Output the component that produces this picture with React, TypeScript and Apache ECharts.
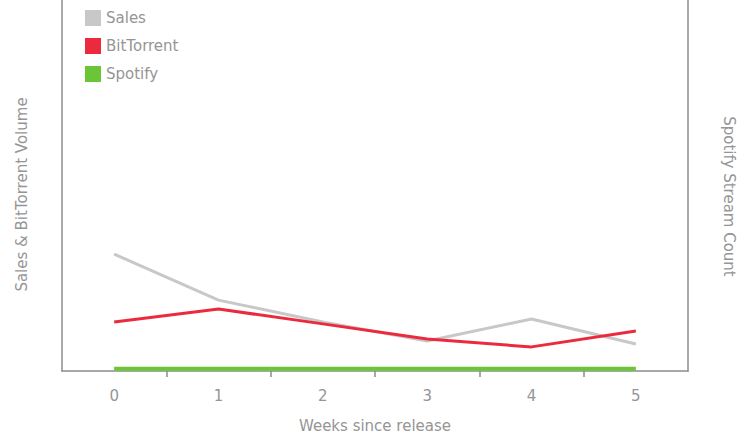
import React, { useEffect, useRef } from "react";
import * as echarts from "echarts";

const weeks = ["0", "1", "2", "3", "4", "5"];
const salesValues = [31.5, 19.1, 13.2, 8.1, 14.0, 7.3];
const bitTorrentValues = [13.2, 16.7, 12.7, 8.6, 6.5, 10.8];
const spotifyValues = [0.6, 0.6, 0.6, 0.6, 0.6, 0.6];
const bandBoundaries = [1, 2, 3, 4, 5];

const FONT = "DejaVu Sans";
const GREY_TEXT = "#959595";
const AXIS_GREY = "#8c8c8c";
const FS = 15;

export default function App() {
  const ref = useRef<HTMLDivElement>(null);
  useEffect(() => {
    document.body.style.margin = "0";
    const chart = echarts.init(ref.current!, null, { renderer: "svg" });
    chart.setOption({
      animation: false,
      backgroundColor: "#ffffff",
      textStyle: { fontFamily: FONT },
      legend: {
        orient: "vertical",
        left: 80,
        top: 5,
        itemWidth: 16,
        itemHeight: 16,
        itemGap: 12,
        icon: "rect",
        textStyle: { color: GREY_TEXT, fontSize: FS, fontFamily: FONT },
        data: ["Sales", "BitTorrent", "Spotify"],
      },
      grid: { left: 62, right: 59, top: 0, bottom: 66 },
      xAxis: [
        {
          type: "category",
          data: weeks,
          boundaryGap: true,
          name: "Weeks since release",
          nameLocation: "middle",
          nameGap: 47,
          nameTextStyle: { color: GREY_TEXT, fontSize: FS, fontFamily: FONT },
          axisLine: { lineStyle: { color: AXIS_GREY, width: 1.5 } },
          axisTick: { show: false },
          axisLabel: { color: GREY_TEXT, fontSize: FS, margin: 17, fontFamily: FONT },
        },
        {
          type: "value",
          position: "bottom",
          min: 0,
          max: 6,
          axisLine: { show: false },
          axisLabel: { show: false },
          splitLine: { show: false },
          axisTick: {
            show: true,
            length: 6,
            customValues: bandBoundaries,
            lineStyle: { color: AXIS_GREY, width: 1.5 },
          },
        },
      ],
      yAxis: [
        {
          type: "value",
          min: 0,
          max: 100,
          name: "Sales & BitTorrent Volume",
          nameLocation: "middle",
          nameGap: 33,
          nameTextStyle: { color: GREY_TEXT, fontSize: FS, fontFamily: FONT, padding: [0, 18, 0, 0] },
          axisLine: { show: true, lineStyle: { color: AXIS_GREY, width: 1.5 } },
          axisTick: { show: false },
          axisLabel: { show: false },
          splitLine: { show: false },
        },
        {
          type: "value",
          min: 0,
          max: 100,
          position: "right",
          name: "Spotify Stream Count",
          nameLocation: "middle",
          nameGap: 33,
          nameRotate: -90,
          nameTextStyle: { color: GREY_TEXT, fontSize: FS, fontFamily: FONT, padding: [0, 0, 0, 22] },
          axisLine: { show: true, lineStyle: { color: AXIS_GREY, width: 1.5 } },
          axisTick: { show: false },
          axisLabel: { show: false },
          splitLine: { show: false },
        },
      ],
      series: [
        {
          name: "Sales",
          type: "line",
          data: salesValues,
          yAxisIndex: 0,
          symbol: "none",
          color: "#c8c8c8",
          lineStyle: { width: 3, color: "#c8c8c8" },
        },
        {
          name: "BitTorrent",
          type: "line",
          data: bitTorrentValues,
          yAxisIndex: 0,
          symbol: "none",
          color: "#ec2a3d",
          lineStyle: { width: 3, color: "#ec2a3d" },
        },
        {
          name: "Spotify",
          type: "line",
          data: spotifyValues,
          yAxisIndex: 1,
          symbol: "none",
          color: "#6cc536",
          lineStyle: { width: 4, color: "#6cc536" },
        },
      ],
    });
    return () => chart.dispose();
  }, []);
  return <div ref={ref} style={{ width: 747, height: 438 }} />;
}
